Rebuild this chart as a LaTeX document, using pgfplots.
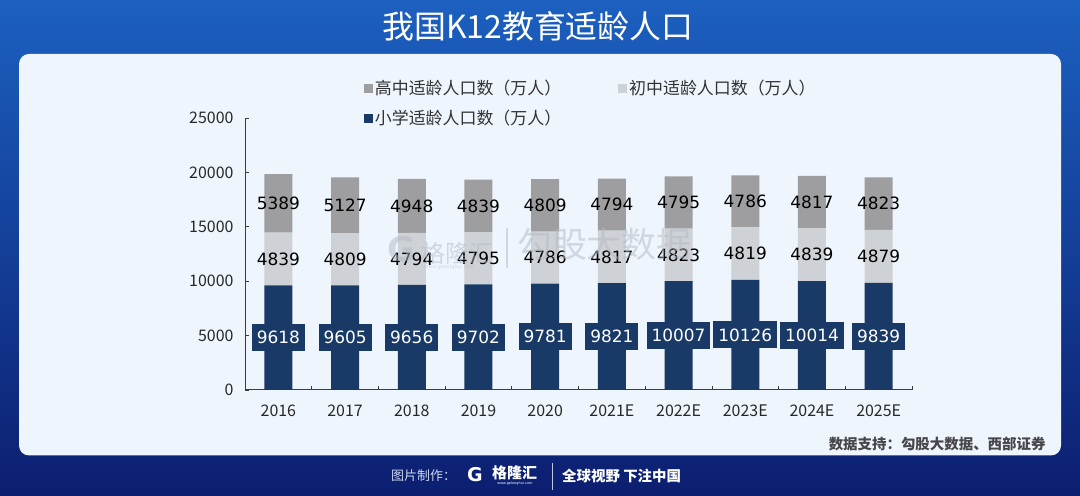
\documentclass[border=0pt]{standalone}
\usepackage{pgfplots}
\pgfplotsset{compat=1.18}
\usepackage{pgfplotstable}
\usepackage{fontspec}
\setmainfont{Noto Sans CJK SC}
\newfontfamily\cjk{Noto Sans CJK SC}
\newfontfamily\numfont{DejaVu Sans}
\definecolor{navy}{RGB}{25,57,102}
\definecolor{hsgray}{RGB}{158,158,160}
\definecolor{msgray}{RGB}{206,209,213}
\definecolor{panel}{RGB}{238,245,252}
\definecolor{axisgray}{RGB}{60,60,60}
\definecolor{labelgray}{RGB}{40,40,40}
\definecolor{legendgray}{RGB}{50,50,50}
\definecolor{bgtop}{RGB}{28,96,192}
\definecolor{bgbot}{RGB}{12,30,112}
\definecolor{srcgray}{RGB}{70,70,75}
\definecolor{wmgray}{RGB}{178,185,198}

\pgfplotstableread{
x p m h
0 9618 4839 5389
1 9605 4809 5127
2 9656 4794 4948
3 9702 4795 4839
4 9781 4786 4809
5 9821 4817 4794
6 10007 4823 4795
7 10126 4819 4786
8 10014 4839 4817
9 9839 4879 4823
}\datatable

\begin{document}
\begin{tikzpicture}[x=1bp,y=1bp]
\useasboundingbox (0,0) rectangle (1080,496);
\shade[top color=bgtop, bottom color=bgbot] (0,0) rectangle (1080,496);
\fill[panel, rounded corners=10bp] (19,40.5) rectangle (1061,442);
\node[text=white, font=\cjk\fontsize{32}{32}\selectfont] at (538,470) {我国K12教育适龄人口};

\begin{axis}[
  at={(245bp,106bp)}, anchor=south west,
  scale only axis, width=667bp, height=272bp,
  ybar stacked, bar width=28bp,
  xmin=-0.5, xmax=9.5, ymin=0, ymax=25000,
  scaled y ticks=false,
  axis lines=left,
  axis line style={-, draw=axisgray, line width=1bp},
  xtick={0,...,9},
  xticklabels={2016,2017,2018,2019,2020,2021E,2022E,2023E,2024E,2025E},
  minor xtick={-0.5,0.5,...,9.5},
  major x tick style={draw=none},
  ytick={0,5000,...,25000},
  tick style={draw=axisgray, line width=0.8bp},
  major tick length=4bp, minor tick length=4bp,
  tick align=inside,
  ticklabel style={font=\cjk\fontsize{16}{16}\selectfont, text=labelgray},
  /pgf/number format/assume math mode=true,
  /pgf/number format/1000 sep={},
  yticklabel style={xshift=-8bp},
  xticklabel style={yshift=-11bp},
  point meta=explicit,
  nodes near coords,
  nodes near coords align={center},
  every node near coord/.append style={font=\numfont\fontsize{17}{17}\selectfont, text=black, anchor=center},
  legend columns=2, reverse legend,
  legend cell align=left,
  legend style={at={(0.178,1.147)}, anchor=north west, draw=none, fill=none,
    font=\cjk\fontsize{17}{17}\selectfont, text=legendgray, inner sep=0pt,
    row sep=10bp,
    /tikz/every even column/.append style={column sep=55bp}},
  legend image code/.code={\fill[#1] (0bp,-4.5bp) rectangle (9bp,4.5bp);},
  clip=false,
]
\addplot[fill=navy, draw=none,
  every node near coord/.append style={fill=navy, text=white, inner xsep=5bp, minimum height=27bp}]
  table[x=x, y=p, meta=p] {\datatable};
\addlegendentry{小学适龄人口数（万人）}
\addplot[fill=msgray, draw=none] table[x=x, y=m, meta=m] {\datatable};
\addlegendentry{初中适龄人口数（万人）}
\addplot[fill=hsgray, draw=none] table[x=x, y=h, meta=h] {\datatable};
\addlegendentry{高中适龄人口数（万人）}
\end{axis}

% watermark
\begin{scope}[opacity=0.5]
\node[text=wmgray, font=\numfont\bfseries\fontsize{34}{34}\selectfont, inner sep=0pt] at (401,247) {G};
\node[anchor=west, text=wmgray, font=\cjk\fontsize{24}{24}\selectfont, inner sep=0pt] at (421,243) {格隆汇};
\node[anchor=west, text=wmgray, font=\numfont\fontsize{5}{5}\selectfont, inner sep=0pt] at (424,229) {www.gelonghui.com};
\draw[wmgray, line width=1.2bp] (507,228) -- (507,268);
\node[anchor=west, text=wmgray, font=\cjk\fontsize{35}{35}\selectfont, inner sep=0pt] at (517,252) {勾股大数据};
\end{scope}

% source
\node[anchor=east, text=srcgray, font=\cjk\bfseries\fontsize{14.5}{14.5}\selectfont] at (1049,52) {数据支持：勾股大数据、西部证券};

% footer
\node[anchor=west, text={rgb,255:red,205;green,215;blue,238}, font=\cjk\fontsize{13}{13}\selectfont, inner sep=0pt] at (391,20) {图片制作：};
\node[text=white, font=\numfont\bfseries\fontsize{19}{19}\selectfont, inner sep=0pt] at (475,21) {G};
\node[anchor=west, text=white, font=\cjk\bfseries\fontsize{15}{15}\selectfont, inner sep=0pt] at (492,23) {格隆汇};
\node[text=white, font=\numfont\fontsize{3.5}{3.5}\selectfont, inner sep=0pt] at (515,12) {www.gelonghui.com};
\draw[white!75!bgbot, line width=0.8bp] (552,6) -- (552,33);
\node[anchor=west, text=white, font=\cjk\bfseries\fontsize{14.5}{14.5}\selectfont, inner sep=0pt] at (562,20) {全球视野 下注中国};
\end{tikzpicture}
\end{document}
